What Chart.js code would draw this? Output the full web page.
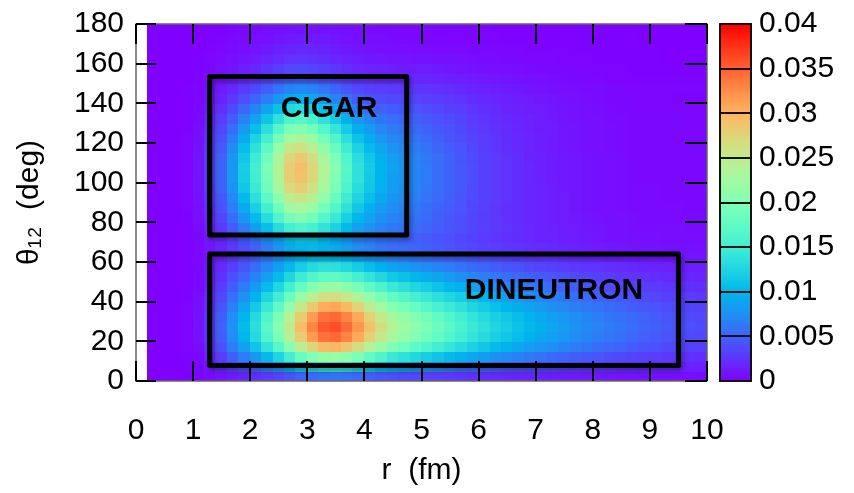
<!DOCTYPE html>
<html>
<head>
<meta charset="utf-8">
<title>theta12 vs r density</title>
<script src="https://cdn.jsdelivr.net/npm/chart.js@4.4.0/dist/chart.umd.min.js"></script>
<style>
  html, body { margin: 0; padding: 0; background: #fff; }
</style>
</head>
<body>
<canvas id="grafico" width="854" height="493"></canvas>
<script>
// cell centres (r in fm, theta in deg)
const rCenters = [0.3,0.5,0.7,0.9,1.1,1.3,1.5,1.7,1.9,2.1,2.3,2.5,2.7,2.9,3.1,3.3,3.5,3.7,3.9,4.1,4.3,4.5,4.7,4.9,5.1,5.3,5.5,5.7,5.9,6.1,6.3,6.5,6.7,6.9,7.1,7.3,7.5,7.7,7.9,8.1,8.3,8.5,8.7,8.9,9.1,9.3,9.5,9.7,9.9];
const thetaCenters = [2.5,7.5,12.5,17.5,22.5,27.5,32.5,37.5,42.5,47.5,52.5,57.5,62.5,67.5,72.5,77.5,82.5,87.5,92.5,97.5,102.5,107.5,112.5,117.5,122.5,127.5,132.5,137.5,142.5,147.5,152.5,157.5,162.5,167.5,172.5,177.5];

// density, one row per theta (bottom to top), in units of 1e-3
const densityRows = [
  [0,0,0,0,0.2,0.5,0.9,1.3,1.8,2.3,2.9,3.5,4.3,5,5.6,6,6.1,5.9,5.4,4.9,4.5,4.1,3.8,3.6,3.3,3.1,2.9,2.7,2.5,2.3,2.1,2,1.9,1.8,1.6,1.5,1.4,1.3,1.2,1.2,1.1,1,1,0.9,0.8,0.8,0.7,0.7,0.6],
  [0,0,0,0.1,0.4,1.1,2,3,4.1,5.3,6.6,8,9.8,11.5,12.9,13.8,14,13.5,12.5,11.3,10.3,9.4,8.8,8.2,7.7,7.2,6.7,6.2,5.7,5.3,4.9,4.6,4.3,4,3.7,3.5,3.3,3,2.8,2.7,2.5,2.3,2.2,2,1.9,1.8,1.7,1.6,1.5],
  [0,0,0,0.1,0.5,1.7,3.1,4.8,6.4,8.2,10.4,12.5,15.3,18,20.1,21.7,22,21,19.5,17.7,16.2,14.6,13.7,12.8,12,11.2,10.4,9.7,9,8.3,7.7,7.2,6.7,6.3,5.9,5.5,5.1,4.8,4.5,4.2,3.9,3.7,3.4,3.2,3,2.8,2.6,2.4,2.3],
  [0,0,0,0.2,0.7,2.3,4.2,6.5,8.7,11.2,14.1,17,20.8,24.5,27.4,29.5,29.9,28.6,26.6,24.1,22,19.9,18.7,17.4,16.4,15.3,14.2,13.2,12.2,11.3,10.5,9.8,9.1,8.5,8,7.5,7,6.5,6.1,5.7,5.3,5,4.6,4.3,4.1,3.7,3.6,3.3,3.2],
  [0,0,0,0.2,0.9,2.7,4.8,7.5,10.1,13,16.3,19.7,24,28.3,31.7,34.1,34.6,33.1,30.7,27.8,25.4,23,21.6,20.2,18.9,17.7,16.4,15.3,14.1,13.1,12.1,11.3,10.6,9.9,9.2,8.6,8.1,7.5,7,6.6,6.1,5.8,5.4,5,4.7,4.3,4.1,3.8,3.6],
  [0,0,0,0.2,0.9,2.8,5,7.8,10.5,13.5,17,20.5,25,29.5,33,35.5,36,34.5,32,29,26.5,24,22.5,21,19.7,18.4,17.1,15.9,14.7,13.6,12.6,11.8,11,10.3,9.6,9,8.4,7.8,7.3,6.9,6.4,6,5.6,5.2,4.9,4.5,4.3,4,3.8],
  [0,0,0,0.2,0.9,2.7,4.8,7.5,10.1,13,16.3,19.7,24,28.3,31.7,34.1,34.6,33.1,30.7,27.8,25.4,23,21.6,20.2,18.9,17.7,16.4,15.3,14.1,13.1,12.1,11.3,10.6,9.9,9.2,8.6,8.1,7.5,7,6.6,6.1,5.8,5.4,5,4.7,4.3,4.1,3.8,3.6],
  [0,0,0,0.2,0.8,2.4,4.3,6.7,9,11.6,14.6,17.6,21.5,25.4,28.4,30.5,31,29.7,27.5,24.9,22.8,20.6,19.4,18.1,16.9,15.8,14.7,13.7,12.6,11.7,10.8,10.1,9.5,8.9,8.3,7.7,7.2,6.7,6.3,5.9,5.5,5.2,4.8,4.5,4.2,3.9,3.7,3.4,3.3],
  [0,0,0,0.1,0.7,2.1,3.7,5.8,7.8,10,12.6,15.2,18.5,21.8,24.4,26.3,26.6,25.5,23.7,21.5,19.6,17.8,16.7,15.5,14.6,13.6,12.7,11.8,10.9,10.1,9.3,8.7,8.1,7.6,7.1,6.7,6.2,5.8,5.4,5.1,4.7,4.4,4.1,3.8,3.6,3.3,3.2,3,2.8],
  [0,0,0,0.1,0.5,1.7,3.1,4.8,6.5,8.3,10.5,12.7,15.4,18.1,20.2,21.7,21.9,20.9,19.4,17.6,16,14.5,13.6,12.7,11.9,11.1,10.3,9.6,8.8,8.2,7.6,7.1,6.6,6.2,5.8,5.4,5,4.7,4.4,4.1,3.8,3.6,3.4,3.1,2.9,2.7,2.6,2.4,2.3],
  [0,0,0,0.1,0.5,1.4,2.5,4,5.3,6.9,8.7,10.5,12.7,14.9,16.4,17.5,17.6,16.8,15.5,14.1,12.8,11.6,10.9,10.2,9.6,8.9,8.3,7.7,7.1,6.6,6.1,5.7,5.3,4.9,4.6,4.3,4,3.7,3.5,3.3,3,2.8,2.6,2.5,2.3,2.1,2,1.9,1.8],
  [0,0,0,0.1,0.4,1.2,2.1,3.2,4.4,5.6,7.1,8.6,10.4,12,13.1,13.7,13.6,12.9,11.8,10.7,9.8,8.9,8.4,7.9,7.4,6.9,6.5,6,5.5,5.1,4.7,4.4,4.1,3.8,3.5,3.3,3,2.8,2.6,2.5,2.3,2.1,2,1.8,1.7,1.6,1.5,1.4,1.3],
  [0,0,0,0.1,0.3,1,1.8,2.8,3.8,4.9,6.2,7.5,9.1,10.2,10.8,10.9,10.6,9.9,8.9,8.2,7.5,6.9,6.5,6.2,5.8,5.4,5.1,4.7,4.3,4,3.7,3.4,3.1,2.9,2.7,2.5,2.3,2.1,1.9,1.8,1.6,1.5,1.4,1.3,1.2,1.1,1.1,1,1],
  [0,0,0,0.1,0.3,1,1.8,2.8,3.9,5,6.4,7.8,9.3,10.1,10.3,9.9,9.3,8.4,7.4,6.8,6.2,5.7,5.5,5.2,4.9,4.6,4.3,3.9,3.6,3.3,3,2.8,2.5,2.3,2.1,2,1.8,1.6,1.5,1.3,1.2,1.1,1,0.9,0.9,0.8,0.8,0.8,0.7],
  [0,0,0,0.1,0.4,1.2,2,3.2,4.5,5.9,7.4,9.1,10.8,11.5,11.3,10.5,9.5,8.3,7.1,6.5,5.8,5.4,5.2,4.9,4.6,4.3,4,3.6,3.3,3,2.7,2.4,2.2,2,1.8,1.7,1.5,1.4,1.2,1.1,0.9,0.9,0.8,0.7,0.7,0.6,0.6,0.6,0.6],
  [0,0,0,0.1,0.6,1.7,2.9,4.6,6.5,8.5,10.7,13.2,15.5,16.3,15.6,14,12.3,10.4,8.7,7.8,6.9,6.3,6,5.6,5.2,4.7,4.4,4,3.5,3.2,2.8,2.5,2.3,2,1.8,1.6,1.4,1.3,1.1,1,0.9,0.8,0.6,0.6,0.6,0.6,0.6,0.5,0.5],
  [0,0,0,0.1,0.7,2.1,3.5,5.6,8,10.4,13.2,16.3,19.1,20,18.9,16.7,14.5,12.1,10.1,8.8,7.7,6.9,6.4,5.9,5.4,4.9,4.5,4,3.5,3.1,2.8,2.4,2.2,1.9,1.7,1.5,1.3,1.2,1,0.9,0.8,0.7,0.6,0.5,0.5,0.5,0.5,0.5,0.5],
  [0,0,0,0.2,0.8,2.4,4.1,6.5,9.3,12.1,15.3,18.9,22.2,23.1,21.7,19.1,16.5,13.7,11.3,9.8,8.4,7.5,6.9,6.3,5.7,5.1,4.7,4.2,3.6,3.2,2.8,2.4,2.2,1.9,1.7,1.5,1.3,1.1,0.9,0.8,0.7,0.6,0.5,0.5,0.5,0.5,0.5,0.4,0.4],
  [0,0,0,0.2,0.9,2.7,4.5,7.2,10.4,13.5,17.1,21.2,24.8,25.8,24.2,21.3,18.2,15.1,12.4,10.7,9.1,8,7.4,6.7,6,5.4,4.9,4.3,3.8,3.3,2.9,2.5,2.2,1.9,1.7,1.5,1.3,1.1,0.9,0.8,0.7,0.6,0.5,0.5,0.5,0.4,0.4,0.4,0.4],
  [0,0,0,0.2,1,2.9,4.9,7.8,11.3,14.7,18.6,23,26.9,28,26.2,22.9,19.6,16.2,13.3,11.4,9.7,8.5,7.8,7,6.3,5.6,5.1,4.5,3.8,3.3,2.9,2.5,2.2,1.9,1.7,1.5,1.2,1.1,0.9,0.8,0.7,0.6,0.5,0.5,0.5,0.4,0.4,0.4,0.4],
  [0,0,0,0.2,1,3,5.1,8.1,11.7,15.2,19.2,23.8,27.9,29,27.1,23.7,20.2,16.7,13.7,11.6,9.9,8.6,7.9,7.1,6.4,5.6,5.1,4.5,3.9,3.3,2.9,2.5,2.2,1.9,1.6,1.4,1.2,1.1,0.9,0.8,0.7,0.6,0.4,0.4,0.4,0.4,0.4,0.4,0.4],
  [0,0,0,0.2,1,3.1,5.1,8.2,11.8,15.3,19.4,24,28.1,29.2,27.3,23.9,20.4,16.9,13.8,11.7,10,8.7,8,7.1,6.4,5.7,5.1,4.5,3.9,3.3,2.9,2.5,2.2,1.9,1.6,1.4,1.2,1.1,0.9,0.8,0.7,0.6,0.4,0.4,0.4,0.4,0.4,0.4,0.4],
  [0,0,0,0.2,1,3,5,8,11.4,14.9,18.9,23.3,27.3,28.4,26.5,23.2,19.8,16.4,13.4,11.4,9.7,8.5,7.8,7,6.3,5.6,5,4.4,3.8,3.3,2.9,2.5,2.2,1.8,1.6,1.4,1.2,1.1,0.9,0.8,0.7,0.6,0.4,0.4,0.4,0.4,0.4,0.4,0.4],
  [0,0,0,0.2,0.9,2.8,4.6,7.4,10.6,13.8,17.4,21.6,25.3,26.2,24.5,21.4,18.3,15.1,12.3,10.5,9,7.9,7.3,6.5,5.9,5.2,4.7,4.2,3.6,3.1,2.7,2.3,2,1.8,1.5,1.3,1.1,1,0.8,0.7,0.6,0.5,0.4,0.4,0.4,0.4,0.4,0.4,0.4],
  [0,0,0,0.2,0.8,2.5,4.1,6.6,9.4,12.3,15.5,19.2,22.5,23.4,21.9,19.1,16.3,13.5,11,9.5,8.1,7.2,6.7,6,5.5,4.9,4.4,3.9,3.4,3,2.6,2.2,2,1.7,1.5,1.3,1.1,1,0.8,0.7,0.6,0.5,0.4,0.4,0.4,0.4,0.4,0.4,0.4],
  [0,0,0,0.1,0.7,2.1,3.6,5.7,8.2,10.6,13.5,16.6,19.5,20.3,19,16.6,14.2,11.7,9.6,8.3,7.2,6.4,6,5.5,5,4.5,4.1,3.7,3.2,2.8,2.5,2.1,1.9,1.6,1.4,1.3,1.1,1,0.8,0.7,0.6,0.5,0.4,0.4,0.4,0.4,0.4,0.3,0.3],
  [0,0,0,0.1,0.6,1.8,3,4.7,6.8,8.8,11.2,13.8,16.2,16.8,15.8,13.8,11.8,9.8,8.1,7.1,6.2,5.6,5.3,4.9,4.5,4.1,3.8,3.4,2.9,2.6,2.3,2,1.8,1.6,1.4,1.2,1,0.9,0.8,0.7,0.5,0.5,0.4,0.4,0.4,0.4,0.4,0.3,0.3],
  [0,0,0,0.1,0.5,1.4,2.3,3.7,5.3,7,8.8,10.9,12.8,13.3,12.4,10.9,9.3,7.7,6.3,5.7,5,4.6,4.4,4.2,3.9,3.6,3.3,3,2.6,2.3,2.1,1.8,1.6,1.4,1.3,1.1,1,0.9,0.7,0.6,0.5,0.4,0.3,0.3,0.3,0.3,0.3,0.3,0.3],
  [0,0,0,0.1,0.3,1,1.7,2.8,4,5.2,6.5,8.1,9.5,9.9,9.3,8.1,7,5.8,4.8,4.4,3.9,3.7,3.6,3.4,3.2,3,2.8,2.5,2.2,2,1.8,1.6,1.4,1.3,1.1,1,0.9,0.8,0.6,0.5,0.4,0.4,0.3,0.3,0.3,0.3,0.2,0.2,0.2],
  [0,0,0,0.1,0.3,0.8,1.3,2,2.9,3.8,4.8,6,7,7.3,6.9,6.1,5.2,4.4,3.6,3.3,3,2.9,2.8,2.7,2.6,2.4,2.3,2,1.8,1.6,1.5,1.3,1.2,1,0.9,0.8,0.7,0.6,0.5,0.5,0.4,0.4,0.3,0.3,0.3,0.3,0.3,0.3,0.3],
  [0,0,0,0,0.2,0.5,0.9,1.4,2.1,2.7,3.4,4.2,4.9,5.2,4.8,4.3,3.7,3.1,2.5,2.4,2.2,2,2,1.9,1.9,1.7,1.6,1.5,1.3,1.2,1.1,1,0.9,0.8,0.7,0.6,0.5,0.4,0.4,0.3,0.2,0.2,0.2,0.2,0.2,0.2,0.2,0.2,0.2],
  [0,0,0,0,0.1,0.4,0.7,1,1.5,1.9,2.5,3,3.6,3.7,3.5,3.1,2.7,2.3,1.9,1.7,1.6,1.5,1.4,1.4,1.3,1.2,1.1,1,0.9,0.8,0.7,0.7,0.6,0.5,0.4,0.4,0.3,0.3,0.3,0.2,0.2,0.2,0.1,0.1,0.1,0.1,0.1,0.1,0.1],
  [0,0,0,0,0.1,0.3,0.5,0.7,1,1.3,1.7,2.1,2.5,2.6,2.5,2.2,1.9,1.6,1.4,1.2,1.1,1,1,0.9,0.9,0.8,0.8,0.7,0.6,0.5,0.5,0.4,0.4,0.3,0.3,0.3,0.2,0.2,0.2,0.1,0.1,0.1,0.1,0.1,0.1,0,0,0,0],
  [0,0,0,0,0,0.2,0.3,0.5,0.7,1,1.2,1.5,1.8,1.9,1.8,1.6,1.4,1.2,1,0.9,0.8,0.7,0.7,0.6,0.6,0.5,0.5,0.5,0.4,0.4,0.3,0.3,0.3,0.2,0.2,0.2,0.2,0.1,0.1,0.1,0.1,0.1,0.1,0.1,0.1,0,0,0,0],
  [0,0,0,0,0,0.1,0.2,0.4,0.5,0.7,0.8,1,1.2,1.3,1.3,1.2,1,0.9,0.8,0.7,0.6,0.5,0.4,0.4,0.4,0.3,0.3,0.2,0.2,0.2,0.2,0.1,0.1,0.1,0.1,0.1,0.1,0.1,0.1,0.1,0.1,0.1,0.1,0,0,0,0,0,0],
  [0,0,0,0,0,0.1,0.1,0.2,0.3,0.4,0.6,0.7,0.8,0.9,0.9,0.8,0.8,0.7,0.6,0.5,0.4,0.4,0.3,0.3,0.3,0.2,0.2,0.2,0.2,0.2,0.1,0.1,0.1,0.1,0.1,0.1,0.1,0.1,0.1,0.1,0.1,0.1,0.1,0,0,0,0,0,0]
];

// labelled regions (data coordinates)
const regionNames = ['CIGAR', 'DINEUTRON'];
const regionR = [[1.29, 4.74], [1.29, 9.5]];
const regionTheta = [[73.6, 153.5], [7.8, 64]];
const regionLabelAt = [[3.38, 137.4], [7.32, 45.7]];

const CB_MAX = 0.04;
const FONT = "'Liberation Sans', Arial, Helvetica, sans-serif";

// gnuplot rgbformulae 33,13,10
function palette(t) {
  t = Math.min(1, Math.max(0, t));
  const r = Math.min(1, Math.abs(2 * t - 0.5));
  const g = Math.sin(Math.PI * t);
  const b = Math.cos(Math.PI * t / 2);
  return 'rgb(' + Math.round(r * 255) + ',' + Math.round(g * 255) + ',' + Math.round(b * 255) + ')';
}

const cells = [];
thetaCenters.forEach((th, j) => {
  rCenters.forEach((r, i) => {
    cells.push({ x: r, y: th, v: (densityRows[j][i] || 0) / 1000 });
  });
});
const cellW = rCenters[1] - rCenters[0];
const cellH = thetaCenters[1] - thetaCenters[0];

const heatmap = {
  id: 'heatmap',
  beforeDatasetsDraw(chart) {
    const ctx = chart.ctx;
    const xs = chart.scales.x, ys = chart.scales.y;
    ctx.save();
    chart.data.datasets[0].data.forEach(p => {
      const x0 = Math.floor(xs.getPixelForValue(p.x - cellW / 2));
      const x1 = Math.ceil(xs.getPixelForValue(p.x + cellW / 2));
      const y0 = Math.floor(ys.getPixelForValue(p.y + cellH / 2));
      const y1 = Math.ceil(ys.getPixelForValue(p.y - cellH / 2));
      ctx.fillStyle = palette(p.v / CB_MAX);
      ctx.fillRect(x0, y0, x1 - x0, y1 - y0);
    });
    ctx.restore();
  }
};

const overlay = {
  id: 'overlay',
  afterDatasetsDraw(chart) {
    const ctx = chart.ctx, a = chart.chartArea;
    const xs = chart.scales.x, ys = chart.scales.y;
    ctx.save();
    // boxes
    ctx.lineWidth = 5;
    ctx.strokeStyle = '#000';
    ctx.lineJoin = 'round';
    ctx.shadowColor = 'rgba(0,0,0,0.35)';
    ctx.shadowBlur = 5;
    ctx.shadowOffsetX = 2;
    ctx.shadowOffsetY = 3;
    regionNames.forEach((n, k) => {
      const x0 = xs.getPixelForValue(regionR[k][0]), x1 = xs.getPixelForValue(regionR[k][1]);
      const y0 = ys.getPixelForValue(regionTheta[k][1]), y1 = ys.getPixelForValue(regionTheta[k][0]);
      ctx.strokeRect(x0, y0, x1 - x0, y1 - y0);
    });
    ctx.shadowColor = 'transparent';
    ctx.fillStyle = '#000';
    ctx.font = 'bold 30px ' + FONT;
    ctx.textAlign = 'center';
    ctx.textBaseline = 'middle';
    regionNames.forEach((n, k) => {
      ctx.fillText(n, xs.getPixelForValue(regionLabelAt[k][0]), ys.getPixelForValue(regionLabelAt[k][1]));
    });
    // frame
    ctx.strokeStyle = '#666';
    ctx.lineWidth = 1.5;
    ctx.strokeRect(a.left, a.top, a.right - a.left, a.bottom - a.top);
    // inward ticks, mirrored
    ctx.strokeStyle = '#000';
    ctx.lineWidth = 2;
    ctx.beginPath();
    xs.ticks.forEach(t => {
      const px = Math.round(xs.getPixelForValue(t.value));
      ctx.moveTo(px, a.bottom); ctx.lineTo(px, a.bottom - 20);
      ctx.moveTo(px, a.top); ctx.lineTo(px, a.top + 20);
    });
    ys.ticks.forEach(t => {
      const py = Math.round(ys.getPixelForValue(t.value));
      ctx.moveTo(a.left, py); ctx.lineTo(a.left + 20, py);
      ctx.moveTo(a.right, py); ctx.lineTo(a.right - 22, py);
    });
    ctx.stroke();
    ctx.restore();
  }
};

const colorbar = {
  id: 'colorbar',
  afterDraw(chart) {
    const ctx = chart.ctx, a = chart.chartArea;
    const cb = chart.scales.cb;
    const left = a.right + 13, w = 31;
    const steps = 240;
    ctx.save();
    for (let k = 0; k < steps; k++) {
      const v0 = cb.min + (cb.max - cb.min) * k / steps;
      const v1 = cb.min + (cb.max - cb.min) * (k + 1) / steps;
      const yTop = Math.floor(cb.getPixelForValue(v1));
      const yBot = Math.ceil(cb.getPixelForValue(v0));
      ctx.fillStyle = palette((v0 + v1) / 2 / cb.max);
      ctx.fillRect(left, yTop, w, yBot - yTop);
    }
    ctx.strokeStyle = '#111';
    ctx.lineWidth = 2;
    ctx.beginPath();
    cb.ticks.forEach(t => {
      const py = Math.round(cb.getPixelForValue(t.value));
      ctx.moveTo(left, py); ctx.lineTo(left + w, py);
    });
    ctx.stroke();
    ctx.strokeRect(left, cb.top, w, cb.bottom - cb.top);
    ctx.restore();
  }
};

const tickFont = { family: FONT, size: 30 };
const hiddenTicks = { display: true, drawOnChartArea: false, drawTicks: true, color: 'rgba(0,0,0,0)' };

new Chart(document.getElementById('grafico').getContext('2d'), {
  type: 'scatter',
  data: {
    datasets: [{
      label: 'density',
      data: cells,
      pointRadius: 0,
      pointHoverRadius: 0
    }]
  },
  options: {
    responsive: false,
    animation: false,
    events: [],
    layout: { padding: { top: 24, left: 0, right: 0, bottom: 0 } },
    plugins: { legend: { display: false }, tooltip: { enabled: false } },
    scales: {
      x: {
        type: 'linear', min: 0, max: 10,
        grid: { display: false }, border: { display: false },
        ticks: { stepSize: 1, autoSkip: false, maxRotation: 0, color: '#000', font: tickFont, padding: 24 },
        title: { display: true, text: 'r  (fm)', color: '#000', font: tickFont, padding: { top: 0, bottom: 4 } },
        afterFit(s) { s.height = 112; }
      },
      y: {
        type: 'linear', min: 0, max: 180,
        grid: Object.assign({ tickLength: 8 }, hiddenTicks), border: { display: false },
        ticks: { stepSize: 20, autoSkip: false, color: '#000', font: tickFont, padding: 4 },
        title: { display: true, text: 'θ₁₂  (deg)', color: '#000', font: tickFont, padding: { top: 12, bottom: 0 } },
        afterFit(s) { s.width = 136; }
      },
      cb: {
        type: 'linear', position: 'right', min: 0, max: CB_MAX,
        grid: Object.assign({ tickLength: 48 }, hiddenTicks), border: { display: false },
        ticks: {
          stepSize: 0.005, autoSkip: false, color: '#000', font: tickFont, padding: 4,
          callback: v => String(+v.toFixed(3))
        },
        afterFit(s) { s.width = 147; }
      }
    }
  },
  plugins: [heatmap, overlay, colorbar]
});
</script>
</body>
</html>
